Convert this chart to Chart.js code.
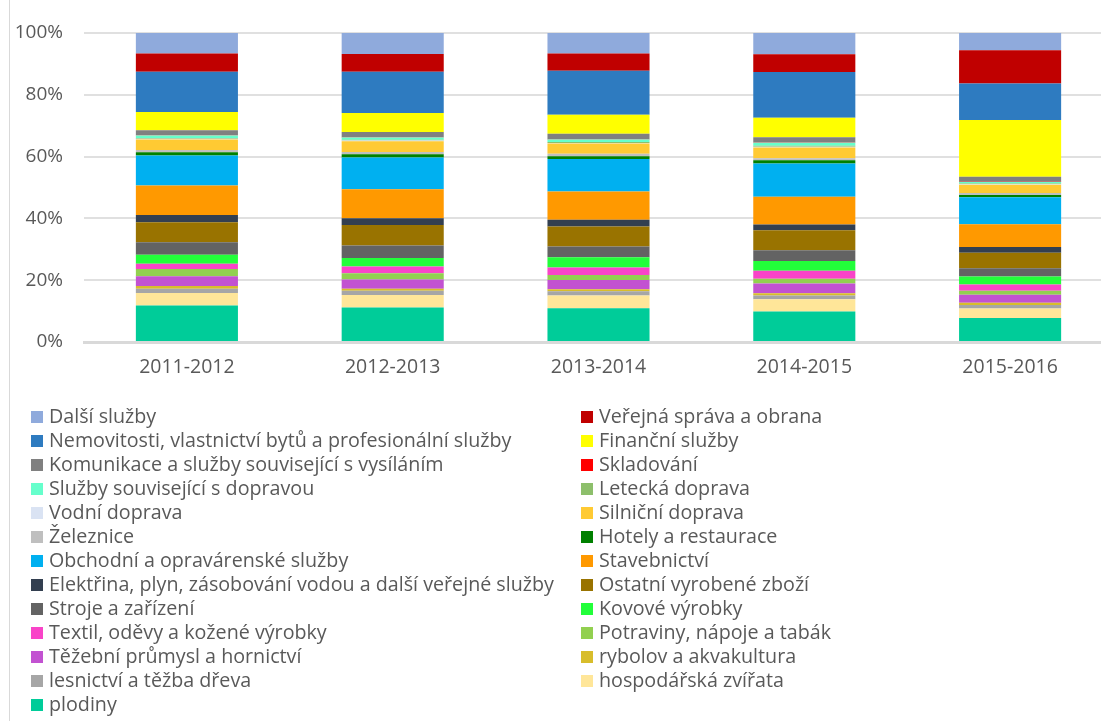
<!DOCTYPE html>
<html>
<head>
<meta charset="utf-8">
<script src="https://cdn.jsdelivr.net/npm/chart.js@4/dist/chart.umd.min.js"></script>
<style>
  html, body { margin: 0; padding: 0; background: #fff; width: 1101px; height: 721px; overflow: hidden; }
  #wrap { position: absolute; left: 0; top: 0; width: 1125px; height: 395px; }
  #frame { position: absolute; left: 9px; top: 0; width: 1px; height: 721px; background: #d9d9d9; }
  #legend { position: absolute; left: 0; top: 0; width: 1101px; height: 721px; pointer-events: none;
            font-family: "Open Sans", sans-serif; font-size: 19.7px; color: #595959; }
  .li { position: absolute; height: 24px; line-height: 24px; white-space: nowrap; }
  .li .box { position: absolute; left: 0; top: 6px; width: 12px; height: 12px; }
  .li .txt { position: absolute; left: 18px; top: -1px; }
</style>
</head>
<body>
<div id="frame"></div>
<div id="wrap"><canvas id="c" width="1125" height="395"></canvas></div>
<div id="legend"></div>
<script>
// Categories (years)
const categories = ['2011-2012', '2012-2013', '2013-2014', '2014-2015', '2015-2016'];

// Series names in stacking order (bottom -> top)
const seriesNames = [
  'plodiny',
  'hospodářská zvířata',
  'lesnictví a těžba dřeva',
  'rybolov a akvakultura',
  'Těžební průmysl a hornictví',
  'Potraviny, nápoje a tabák',
  'Textil, oděvy a kožené výrobky',
  'Kovové výrobky',
  'Stroje a zařízení',
  'Ostatní vyrobené zboží',
  'Elektřina, plyn, zásobování vodou a další veřejné služby',
  'Stavebnictví',
  'Obchodní a opravárenské služby',
  'Hotely a restaurace',
  'Železnice',
  'Silniční doprava',
  'Vodní doprava',
  'Letecká doprava',
  'Služby související s dopravou',
  'Skladování',
  'Komunikace a služby související s vysíláním',
  'Finanční služby',
  'Nemovitosti, vlastnictví bytů a profesionální služby',
  'Veřejná správa a obrana',
  'Další služby'
];

// Values (%) per year, same order as seriesNames
const v2011 = [11.9, 4.0, 1.4, 0.9, 3.2, 2.3, 1.7, 3.0, 4.0, 6.5, 2.4, 9.6, 9.7, 1.1, 0.75, 3.4, 0.2, 0.3, 0.8, 0.1, 1.6, 5.9, 13.1, 5.9, 6.7];
const v2012 = [11.2, 4.1, 1.4, 0.6, 3.0, 2.1, 2.2, 2.7, 4.1, 6.7, 2.2, 9.4, 10.3, 1.1, 0.75, 3.5, 0.2, 0.3, 0.7, 0.1, 1.7, 6.2, 13.4, 5.8, 6.8];
const v2013 = [11.0, 4.1, 1.4, 0.65, 3.0, 1.7, 2.4, 3.35, 3.5, 6.5, 2.2, 9.2, 10.6, 0.9, 0.75, 3.35, 0.2, 0.3, 0.8, 0.1, 1.8, 6.2, 14.3, 5.6, 6.7];
const v2014 = [9.9, 4.0, 1.2, 0.75, 3.2, 1.5, 2.6, 3.2, 3.5, 6.5, 1.9, 9.0, 10.8, 1.1, 0.65, 3.5, 0.2, 0.3, 1.0, 0.1, 1.7, 6.3, 14.9, 5.8, 6.9];
const v2015 = [7.8, 3.1, 1.1, 0.75, 2.6, 1.3, 2.05, 2.6, 2.7, 5.0, 1.9, 7.35, 8.75, 0.75, 0.65, 2.7, 0.2, 0.2, 0.5, 0.1, 1.6, 18.4, 11.9, 10.8, 5.6];

const yTicks = ['0%', '20%', '40%', '60%', '80%', '100%'];

// Styles
const seriesColors = [
  '#00cc99', '#ffe699', '#a6a6a6', '#d8bd2b', '#c252d1', '#92d050', '#f944c8', '#22ff3a',
  '#636363', '#997300', '#333f50', '#ff9900', '#00b0f0', '#008000', '#bfbfbf', '#ffca33',
  '#dae3f3', '#8dbf6b', '#66ffcc', '#ff0000', '#808080', '#ffff00', '#2e7bc0', '#c00000', '#8faadc'
];

const yearValues = [v2011, v2012, v2013, v2014, v2015];
const totals = yearValues.map(a => a.reduce((s, x) => s + x, 0));

const datasets = seriesNames.map((name, i) => ({
  label: name,
  data: yearValues.map((arr, j) => arr[i] / totals[j] * 100),
  backgroundColor: seriesColors[i],
  borderWidth: 0,
  categoryPercentage: 1.0,
  barPercentage: 0.496
}));

const FONT = '"Open Sans", sans-serif';

const chart = new Chart(document.getElementById('c'), {
  type: 'bar',
  data: { labels: categories, datasets },
  options: {
    responsive: false,
    animation: false,
    layout: { padding: { top: 33, right: 12, left: 0, bottom: 0 } },
    plugins: { legend: { display: false }, tooltip: { enabled: false } },
    scales: {
      x: {
        stacked: true,
        grid: { display: false, drawTicks: false },
        border: { display: true, color: '#d9d9d9', width: 3 },
        ticks: { color: '#595959', font: { family: FONT, size: 19.5 }, padding: 14 },
        afterFit: s => { s.height = 53; }
      },
      y: {
        stacked: true,
        min: 0, max: 100,
        grid: { color: '#e0e0e0', lineWidth: 2, drawTicks: false },
        border: { display: false },
        ticks: {
          stepSize: 20,
          color: '#595959',
          font: { family: FONT, size: 19 },
          padding: 21,
          callback: (v) => yTicks[Math.round(v / 20)]
        },
        afterFit: s => { s.width = 84; }
      }
    }
  }
});

// HTML legend, two columns, reversed order (top series first)
const items = Chart.defaults.plugins.legend.labels.generateLabels(chart).slice().reverse();
const leg = document.getElementById('legend');
items.forEach((it, k) => {
  const row = Math.floor(k / 2), col = k % 2;
  const d = document.createElement('div');
  d.className = 'li';
  d.style.left = (col === 0 ? 31 : 581) + 'px';
  d.style.top = (404.7 + row * 24) + 'px';
  const b = document.createElement('span');
  b.className = 'box';
  b.style.background = it.fillStyle;
  const t = document.createElement('span');
  t.className = 'txt';
  t.textContent = it.text;
  d.appendChild(b); d.appendChild(t);
  leg.appendChild(d);
});
</script>
</body>
</html>
